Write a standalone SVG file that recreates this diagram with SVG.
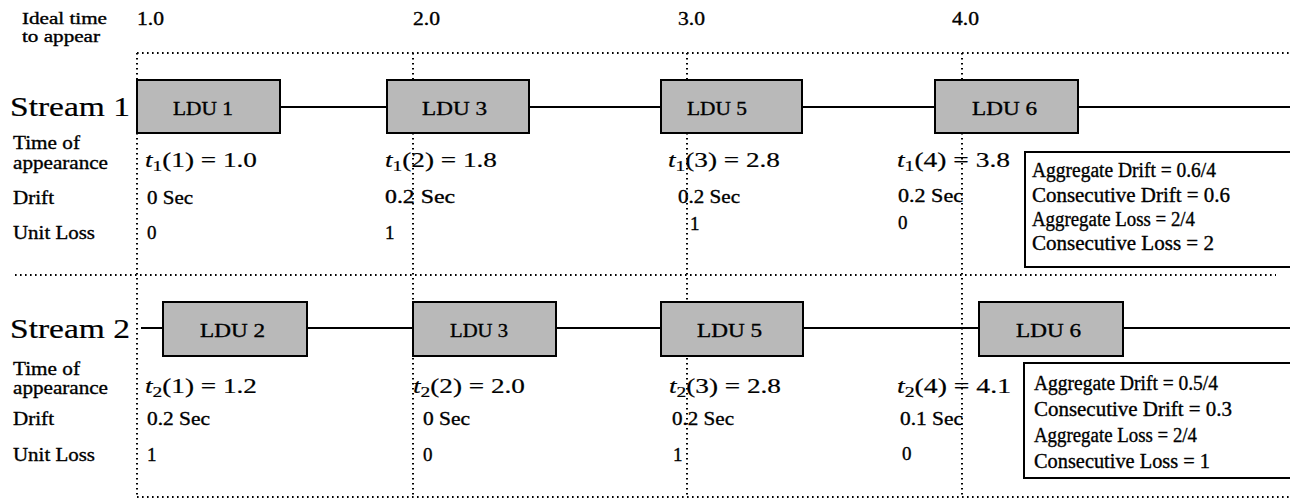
<svg xmlns="http://www.w3.org/2000/svg" width="1290" height="498" viewBox="0 0 1290 498">
<style>
text { font-family: "Liberation Serif", "Times New Roman", serif; fill: #000; stroke: #000; stroke-width: 0.35; }
.lbl { font-size: 19px; }
.hdr { font-size: 16px; }
.strm { font-size: 28px; stroke-width: 0.2; }
.val { font-size: 19px; }
.math { font-size: 21px; stroke-width: 0.2; }
.sub { font-size: 15px; }
.it { font-style: italic; }
.ldu { font-size: 19px; }
.sum { font-size: 20px; }
.grid { stroke: #000; stroke-width: 2; stroke-dasharray: 1.6 3.4; fill: none; }
.box { fill: #b9b9b9; stroke: #000; stroke-width: 2; }
.sbox { fill: #fff; stroke: #000; stroke-width: 2; }
.conn { stroke: #000; stroke-width: 2; fill: none; }
</style>

<!-- dotted grid -->
<g id="grid">
  <line class="grid" x1="137" y1="53" x2="1290" y2="53"/>
  <line class="grid" x1="15" y1="275" x2="1276" y2="275"/>
  <line class="grid" x1="137" y1="497" x2="1290" y2="497"/>
  <line class="grid" x1="137" y1="53" x2="137" y2="497"/>
  <line class="grid" x1="413" y1="53" x2="413" y2="497"/>
  <line class="grid" x1="687" y1="53" x2="687" y2="497"/>
  <line class="grid" x1="962" y1="53" x2="962" y2="497"/>
</g>

<!-- header -->
<g id="header">
  <text class="hdr" x="22" y="24" textLength="85" lengthAdjust="spacingAndGlyphs">Ideal time</text>
  <text class="hdr" x="22" y="42" textLength="78" lengthAdjust="spacingAndGlyphs">to appear</text>
  <text class="val" x="137" y="25" textLength="27" lengthAdjust="spacingAndGlyphs">1.0</text>
  <text class="val" x="413" y="25" textLength="27" lengthAdjust="spacingAndGlyphs">2.0</text>
  <text class="val" x="678" y="25" textLength="27" lengthAdjust="spacingAndGlyphs">3.0</text>
  <text class="val" x="952" y="25" textLength="27" lengthAdjust="spacingAndGlyphs">4.0</text>
</g>

<!-- connectors (stream timelines) -->
<g id="connectors">
  <line class="conn" x1="280" y1="107" x2="387" y2="107"/>
  <line class="conn" x1="529" y1="107" x2="661" y2="107"/>
  <line class="conn" x1="802" y1="107" x2="935" y2="107"/>
  <line class="conn" x1="1078" y1="107" x2="1290" y2="107"/>
  <line class="conn" x1="141" y1="328" x2="163" y2="328"/>
  <line class="conn" x1="307" y1="328" x2="413" y2="328"/>
  <line class="conn" x1="556" y1="328" x2="661" y2="328"/>
  <line class="conn" x1="803" y1="328" x2="979" y2="328"/>
  <line class="conn" x1="1123" y1="328" x2="1290" y2="328"/>
</g>

<!-- Stream 1 -->
<g id="stream1-labels">
  <text class="strm" x="10" y="116" textLength="120" lengthAdjust="spacingAndGlyphs">Stream 1</text>
  <text class="lbl" x="13" y="149" textLength="67" lengthAdjust="spacingAndGlyphs">Time of</text>
  <text class="lbl" x="13" y="169" textLength="95" lengthAdjust="spacingAndGlyphs">appearance</text>
  <text class="lbl" x="13" y="204" textLength="41" lengthAdjust="spacingAndGlyphs">Drift</text>
  <text class="lbl" x="13" y="239" textLength="82" lengthAdjust="spacingAndGlyphs">Unit Loss</text>
</g>

<g id="s1-ldu1"><rect class="box" x="137" y="80" width="143" height="53"/><text class="ldu" x="173" y="115" textLength="60" lengthAdjust="spacingAndGlyphs">LDU 1</text></g>
<g id="s1-ldu3"><rect class="box" x="387" y="80" width="142" height="53"/><text class="ldu" x="422" y="115" textLength="65" lengthAdjust="spacingAndGlyphs">LDU 3</text></g>
<g id="s1-ldu5"><rect class="box" x="661" y="80" width="141" height="53"/><text class="ldu" x="687" y="115" textLength="60" lengthAdjust="spacingAndGlyphs">LDU 5</text></g>
<g id="s1-ldu6"><rect class="box" x="935" y="80" width="143" height="53"/><text class="ldu" x="972" y="115" textLength="65" lengthAdjust="spacingAndGlyphs">LDU 6</text></g>

<g id="stream1-values">
  <text class="math" x="145" y="167" textLength="112" lengthAdjust="spacingAndGlyphs"><tspan class="it">t</tspan><tspan class="sub" dy="4">1</tspan><tspan dy="-4">(1) = 1.0</tspan></text>
  <text class="math" x="385" y="167" textLength="112" lengthAdjust="spacingAndGlyphs"><tspan class="it">t</tspan><tspan class="sub" dy="4">1</tspan><tspan dy="-4">(2) = 1.8</tspan></text>
  <text class="math" x="668" y="167" textLength="112" lengthAdjust="spacingAndGlyphs"><tspan class="it">t</tspan><tspan class="sub" dy="4">1</tspan><tspan dy="-4">(3) = 2.8</tspan></text>
  <text class="math" x="897" y="167" textLength="113" lengthAdjust="spacingAndGlyphs"><tspan class="it">t</tspan><tspan class="sub" dy="4">1</tspan><tspan dy="-4">(4) = 3.8</tspan></text>
  <text class="val" x="147" y="204" textLength="46" lengthAdjust="spacingAndGlyphs">0 Sec</text>
  <text class="val" x="385" y="203" textLength="70" lengthAdjust="spacingAndGlyphs">0.2 Sec</text>
  <text class="val" x="678" y="203" textLength="62" lengthAdjust="spacingAndGlyphs">0.2 Sec</text>
  <text class="val" x="898" y="202" textLength="65" lengthAdjust="spacingAndGlyphs">0.2 Sec</text>
  <text class="val" x="147" y="239">0</text>
  <text class="val" x="385" y="239">1</text>
  <text class="val" x="690" y="230">1</text>
  <text class="val" x="898" y="229">0</text>
</g>

<g id="s1-summary">
  <rect class="sbox" x="1025" y="152" width="275" height="115"/>
  <text class="sum" x="1032" y="177" textLength="184" lengthAdjust="spacingAndGlyphs">Aggregate Drift = 0.6/4</text>
  <text class="sum" x="1032" y="202" textLength="198" lengthAdjust="spacingAndGlyphs">Consecutive Drift = 0.6</text>
  <text class="sum" x="1032" y="226" textLength="163" lengthAdjust="spacingAndGlyphs">Aggregate Loss = 2/4</text>
  <text class="sum" x="1032" y="250" textLength="182" lengthAdjust="spacingAndGlyphs">Consecutive Loss = 2</text>
</g>

<!-- Stream 2 -->
<g id="stream2-labels">
  <text class="strm" x="10" y="338" textLength="120" lengthAdjust="spacingAndGlyphs">Stream 2</text>
  <text class="lbl" x="13" y="375" textLength="67" lengthAdjust="spacingAndGlyphs">Time of</text>
  <text class="lbl" x="13" y="394" textLength="95" lengthAdjust="spacingAndGlyphs">appearance</text>
  <text class="lbl" x="13" y="425" textLength="41" lengthAdjust="spacingAndGlyphs">Drift</text>
  <text class="lbl" x="13" y="461" textLength="82" lengthAdjust="spacingAndGlyphs">Unit Loss</text>
</g>

<g id="s2-ldu2"><rect class="box" x="163" y="302" width="144" height="54"/><text class="ldu" x="200" y="337" textLength="65" lengthAdjust="spacingAndGlyphs">LDU 2</text></g>
<g id="s2-ldu3"><rect class="box" x="413" y="302" width="143" height="54"/><text class="ldu" x="450" y="337" textLength="58" lengthAdjust="spacingAndGlyphs">LDU 3</text></g>
<g id="s2-ldu5"><rect class="box" x="661" y="302" width="142" height="54"/><text class="ldu" x="697" y="337" textLength="65" lengthAdjust="spacingAndGlyphs">LDU 5</text></g>
<g id="s2-ldu6"><rect class="box" x="979" y="302" width="144" height="54"/><text class="ldu" x="1016" y="337" textLength="65" lengthAdjust="spacingAndGlyphs">LDU 6</text></g>

<g id="stream2-values">
  <text class="math" x="145" y="393" textLength="112" lengthAdjust="spacingAndGlyphs"><tspan class="it">t</tspan><tspan class="sub" dy="4">2</tspan><tspan dy="-4">(1) = 1.2</tspan></text>
  <text class="math" x="413" y="393" textLength="112" lengthAdjust="spacingAndGlyphs"><tspan class="it">t</tspan><tspan class="sub" dy="4">2</tspan><tspan dy="-4">(2) = 2.0</tspan></text>
  <text class="math" x="669" y="393" textLength="112" lengthAdjust="spacingAndGlyphs"><tspan class="it">t</tspan><tspan class="sub" dy="4">2</tspan><tspan dy="-4">(3) = 2.8</tspan></text>
  <text class="math" x="897" y="393" textLength="114" lengthAdjust="spacingAndGlyphs"><tspan class="it">t</tspan><tspan class="sub" dy="4">2</tspan><tspan dy="-4">(4) = 4.1</tspan></text>
  <text class="val" x="147" y="425" textLength="63" lengthAdjust="spacingAndGlyphs">0.2 Sec</text>
  <text class="val" x="423" y="425" textLength="47" lengthAdjust="spacingAndGlyphs">0 Sec</text>
  <text class="val" x="672" y="425" textLength="62" lengthAdjust="spacingAndGlyphs">0.2 Sec</text>
  <text class="val" x="900" y="425" textLength="63" lengthAdjust="spacingAndGlyphs">0.1 Sec</text>
  <text class="val" x="147" y="461">1</text>
  <text class="val" x="423" y="461">0</text>
  <text class="val" x="673" y="461">1</text>
  <text class="val" x="902" y="460">0</text>
</g>

<g id="s2-summary">
  <rect class="sbox" x="1024" y="363" width="276" height="115"/>
  <text class="sum" x="1034" y="390" textLength="184" lengthAdjust="spacingAndGlyphs">Aggregate Drift = 0.5/4</text>
  <text class="sum" x="1034" y="416" textLength="198" lengthAdjust="spacingAndGlyphs">Consecutive Drift = 0.3</text>
  <text class="sum" x="1034" y="442" textLength="163" lengthAdjust="spacingAndGlyphs">Aggregate Loss = 2/4</text>
  <text class="sum" x="1034" y="468" textLength="176" lengthAdjust="spacingAndGlyphs">Consecutive Loss = 1</text>
</g>
</svg>
